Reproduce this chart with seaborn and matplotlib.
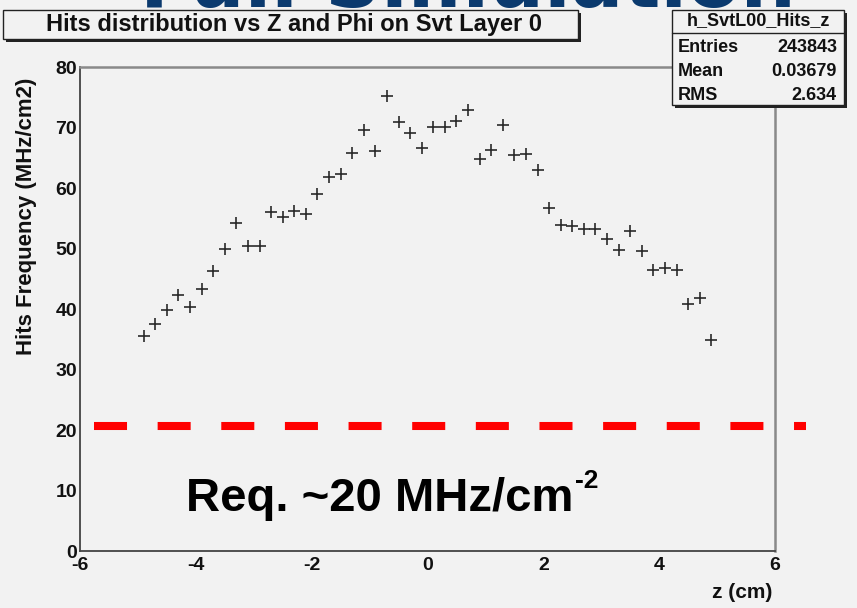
import numpy as np
import pandas as pd
import matplotlib
matplotlib.use("Agg")
import matplotlib.pyplot as plt
import seaborn as sns
from matplotlib import font_manager
from matplotlib.patches import Rectangle
from matplotlib.ticker import MultipleLocator

# ---------------- data ----------------
z_centers = [-4.9, -4.7, -4.5, -4.3, -4.1, -3.9, -3.7, -3.5, -3.3, -3.1,
             -2.9, -2.7, -2.5, -2.3, -2.1, -1.9, -1.7, -1.5, -1.3, -1.1,
             -0.9, -0.7, -0.5, -0.3, -0.1, 0.1, 0.3, 0.5, 0.7, 0.9,
             1.1, 1.3, 1.5, 1.7, 1.9, 2.1, 2.3, 2.5, 2.7, 2.9,
             3.1, 3.3, 3.5, 3.7, 3.9, 4.1, 4.3, 4.5, 4.7, 4.9]
hits_freq = [35.6, 37.6, 39.9, 42.3, 40.3, 43.3, 46.3, 50.0, 54.3, 50.4,
             50.4, 56.1, 55.2, 56.3, 55.7, 59.1, 61.9, 62.4, 65.9, 69.7,
             66.1, 75.3, 70.9, 69.1, 66.6, 70.2, 70.2, 71.1, 73.0, 64.9,
             66.3, 70.5, 65.5, 65.6, 63.1, 56.8, 54.0, 53.8, 53.2, 53.2,
             51.6, 49.8, 53.0, 49.7, 46.5, 46.9, 46.5, 40.9, 41.8, 35.0]
req_level = 20.7
req_x_span = [-5.76, 6.54]
x_ticks = [-6, -4, -2, 0, 2, 4, 6]
y_ticks = [0, 10, 20, 30, 40, 50, 60, 70, 80]
title = "Hits distribution vs Z and Phi on Svt Layer 0"
stats_name = "h_SvtL00_Hits_z"
stats_labels = ["Entries", "Mean", "RMS"]
stats_values = ["243843", "0.03679", "2.634"]
ylabel = "Hits Frequency (MHz/cm2)"
xlabel = "z (cm)"
req_main = "Req. ~20 MHz/cm"
req_sup = "-2"
banner = "Full Simulation"

df = pd.DataFrame({"z": z_centers, "freq": hits_freq})

# ---------------- fonts ----------------
def has_font(name):
    try:
        font_manager.findfont(font_manager.FontProperties(family=name), fallback_to_default=False)
        return True
    except Exception:
        return False

sns.set_style("white")
BASE = "Liberation Sans" if has_font("Liberation Sans") else "DejaVu Sans"
NARROW = "Liberation Sans Narrow" if has_font("Liberation Sans Narrow") else BASE
plt.rcParams["font.family"] = [BASE, "DejaVu Sans"]
plt.rcParams["axes.unicode_minus"] = False

W, H = 857, 608
BG = "#f2f2f2"
fig = plt.figure(figsize=(W / 100, H / 100), dpi=100, facecolor=BG)

def fx(px):
    return px / W

def fy(py):
    return 1 - py / H

ax_l, ax_r, ax_t, ax_b = 80, 775, 67.3, 551.3
ax = fig.add_axes([fx(ax_l), fy(ax_b), (ax_r - ax_l) / W, (ax_b - ax_t) / H])
ax.set_facecolor(BG)

sns.scatterplot(data=df, x="z", y="freq", ax=ax, marker="+", s=70,
                color="#2a2a2a", linewidth=1.2, legend=False, zorder=3)

ax.plot(req_x_span, [req_level, req_level], color="#ff0000", lw=5.8,
        dashes=(4.1, 3.8), solid_capstyle="butt", dash_capstyle="butt",
        clip_on=False, zorder=4)

ax.set_xlim(-6, 6)
ax.set_ylim(0, 80)
ax.set_xticks(x_ticks)
ax.set_yticks(y_ticks)
ax.xaxis.set_minor_locator(MultipleLocator(0.5))
ax.yaxis.set_minor_locator(MultipleLocator(2))
ax.set_xlabel("")
ax.set_ylabel("")
ax.tick_params(axis="both", which="both", direction="in", colors="#444444",
               labelcolor="#111111", width=1.2)
ax.tick_params(axis="y", which="major", length=14.4, pad=2, labelsize=14)
ax.tick_params(axis="y", which="minor", length=7.2)
ax.tick_params(axis="x", which="major", length=10, pad=4, labelsize=14)
ax.tick_params(axis="x", which="minor", length=5)
ax.tick_params(top=False, right=False, which="both")
for lab in ax.get_xticklabels() + ax.get_yticklabels():
    lab.set_fontweight("bold")
for side in ["left", "bottom"]:
    ax.spines[side].set_color("#444444")
    ax.spines[side].set_linewidth(1.3)
for side in ["top", "right"]:
    ax.spines[side].set_visible(True)
    ax.spines[side].set_color("#8a8a8a")
    ax.spines[side].set_linewidth(1.8)

# requirement annotation
t_req = fig.text(fx(186), fy(511), req_main, fontsize=34, fontweight="bold",
                 family=[NARROW, "DejaVu Sans"], color="black",
                 ha="left", va="baseline")
renderer = fig.canvas.get_renderer()
bb = t_req.get_window_extent(renderer=renderer)
fig.text(bb.x1 / W + fx(2), fy(488), req_sup, fontsize=19, fontweight="bold",
         family=[NARROW, "DejaVu Sans"], color="black", ha="left", va="baseline")

# axis titles
fig.text(fx(27), fy(78), ylabel, rotation=90, fontsize=16, fontweight="bold",
         color="#111111", ha="center", va="top")
fig.text(fx(772), fy(593), xlabel, fontsize=15, fontweight="bold",
         color="#111111", ha="right", va="center")

# banner (cut off at top of the picture)
fig.text(fx(140), fy(7), banner, fontsize=56, fontweight="bold",
         color="#0b3a6e", ha="left", va="baseline", family=["DejaVu Sans"],
         zorder=1)

# boxes
def shadow_box(x0, y0, x1, y1):
    fig.add_artist(Rectangle((fx(x0 + 3), fy(y1 + 3)), fx(x1 - x0), (y1 - y0) / H,
                             transform=fig.transFigure, facecolor="#222222",
                             edgecolor="none", zorder=9))
    fig.add_artist(Rectangle((fx(x0), fy(y1)), fx(x1 - x0), (y1 - y0) / H,
                             transform=fig.transFigure, facecolor=BG,
                             edgecolor="#222222", lw=1.0, zorder=10))

shadow_box(3, 10, 578, 39)
fig.text(fx(294), fy(25), title, fontsize=17, fontweight="bold",
         color="#111111", ha="center", va="center", zorder=11)

shadow_box(672, 10, 844, 105)
fig.add_artist(plt.Line2D([fx(672), fx(844)], [fy(33), fy(33)],
                          transform=fig.transFigure, color="#222222", lw=1.0, zorder=11))
fig.text(fx(758), fy(21), stats_name, fontsize=13, fontweight="bold",
         color="#111111", ha="center", va="center", zorder=11)
for i, (lab, val) in enumerate(zip(stats_labels, stats_values)):
    yy = 47 + i * 24
    fig.text(fx(678), fy(yy), lab, fontsize=13, fontweight="bold",
             color="#111111", ha="left", va="center", zorder=11)
    fig.text(fx(837), fy(yy), val, fontsize=13, fontweight="bold",
             color="#111111", ha="right", va="center", zorder=11)

fig.savefig("out.png", dpi=100, facecolor=BG)
